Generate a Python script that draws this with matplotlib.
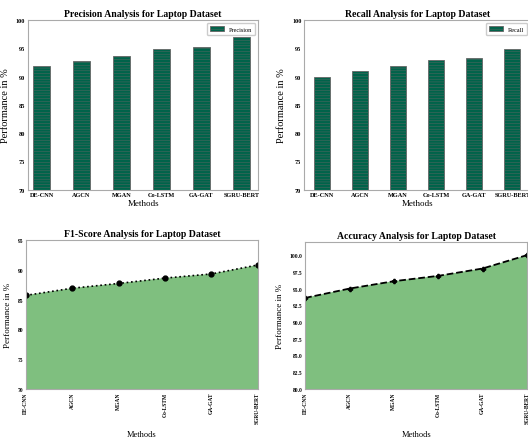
import matplotlib
matplotlib.use("Agg")
import matplotlib.pyplot as plt

plt.rcParams['font.family'] = ['Liberation Serif', 'DejaVu Serif']
plt.rcParams['hatch.linewidth'] = 0.3

methods = ["DE-CNN", "AGCN", "MGAN", "Co-LSTM", "GA-GAT", "SGRU-BERT"]
precision = [91.8, 92.8, 93.7, 94.9, 95.3, 97.0]
recall = [90.0, 90.9, 91.9, 93.0, 93.2, 94.9]
f1_score = [85.7, 86.9, 87.7, 88.6, 89.3, 90.8]
accuracy = [93.6, 95.0, 96.1, 96.9, 98.0, 100.0]

bar_color = "#00634a"
fill_color = "#7fbf7f"
spine_color = "#aaaaaa"

fig = plt.figure(figsize=(5.28, 4.39), dpi=100)

ax_p = fig.add_axes([0.053, 0.566, 0.436, 0.386])
ax_r = fig.add_axes([0.576, 0.566, 0.428, 0.386])
ax_f = fig.add_axes([0.049, 0.112, 0.439, 0.339])
ax_a = fig.add_axes([0.578, 0.112, 0.42, 0.335])

x = list(range(len(methods)))


def style(ax, tick_size):
    for s in ax.spines.values():
        s.set_color(spine_color)
        s.set_linewidth(0.8)
    ax.tick_params(length=0, pad=2, labelsize=tick_size)
    for lab in ax.get_xticklabels() + ax.get_yticklabels():
        lab.set_fontweight('bold')


def bar_panel(ax, values, name, xlim):
    ax.bar(x, values, width=0.42, color=bar_color, edgecolor="#666666",
           linewidth=0.6, hatch='------', label=name)
    ax.set_ylim(70, 100)
    ax.set_xlim(*xlim)
    ax.set_xticks(x)
    ax.set_xticklabels(methods)
    ax.set_yticks([70, 75, 80, 85, 90, 95, 100])
    ax.set_title(f"{name} Analysis for Laptop Dataset", fontsize=7,
                 fontweight='bold', pad=3)
    ax.set_xlabel("Methods", fontsize=6.5, labelpad=1)
    ax.set_ylabel("Performance in %", fontsize=7.5, labelpad=4)
    ax.legend(loc='upper right', fontsize=4.5, handlelength=2.2,
              borderpad=0.5, framealpha=1, edgecolor='#cccccc')
    style(ax, 4.5)


bar_panel(ax_p, precision, "Precision", (-0.34, 5.42))
bar_panel(ax_r, recall, "Recall", (-0.47, 5.47))

# F1-score area chart
ax_f.fill_between(x, f1_score, 70, color=fill_color)
ax_f.plot(x, f1_score, linestyle=':', color='black', linewidth=1.2,
          marker='o', markersize=3.5)
ax_f.set_xlim(0, 5)
ax_f.set_ylim(70, 95)
ax_f.set_yticks([70, 75, 80, 85, 90, 95])
ax_f.set_xticks(x)
ax_f.set_xticklabels(methods, rotation=90)
ax_f.set_title("F1-Score Analysis for Laptop Dataset", fontsize=7,
               fontweight='bold', pad=3)
ax_f.set_xlabel("Methods", fontsize=6, labelpad=5)
ax_f.set_ylabel("Performance in %", fontsize=6.5, labelpad=4)
style(ax_f, 4)

# Accuracy area chart
ax_a.fill_between(x, accuracy, 80, color=fill_color)
ax_a.plot(x, accuracy, linestyle='--', color='black', linewidth=1.3,
          marker='P', markersize=3)
ax_a.set_xlim(0, 5)
ax_a.set_ylim(80, 102)
acc_ticks = [80, 82.5, 85, 87.5, 90, 92.5, 95, 97.5, 100]
ax_a.set_yticks(acc_ticks)
ax_a.set_yticklabels([f"{v:.1f}" for v in acc_ticks])
ax_a.set_xticks(x)
ax_a.set_xticklabels(methods, rotation=90)
ax_a.set_title("Accuracy Analysis for Laptop Dataset", fontsize=7,
               fontweight='bold', pad=3)
ax_a.set_xlabel("Methods", fontsize=6, labelpad=5)
ax_a.set_ylabel("Performance in %", fontsize=6.5, labelpad=4)
style(ax_a, 4)

fig.savefig("out.png", dpi=100)
